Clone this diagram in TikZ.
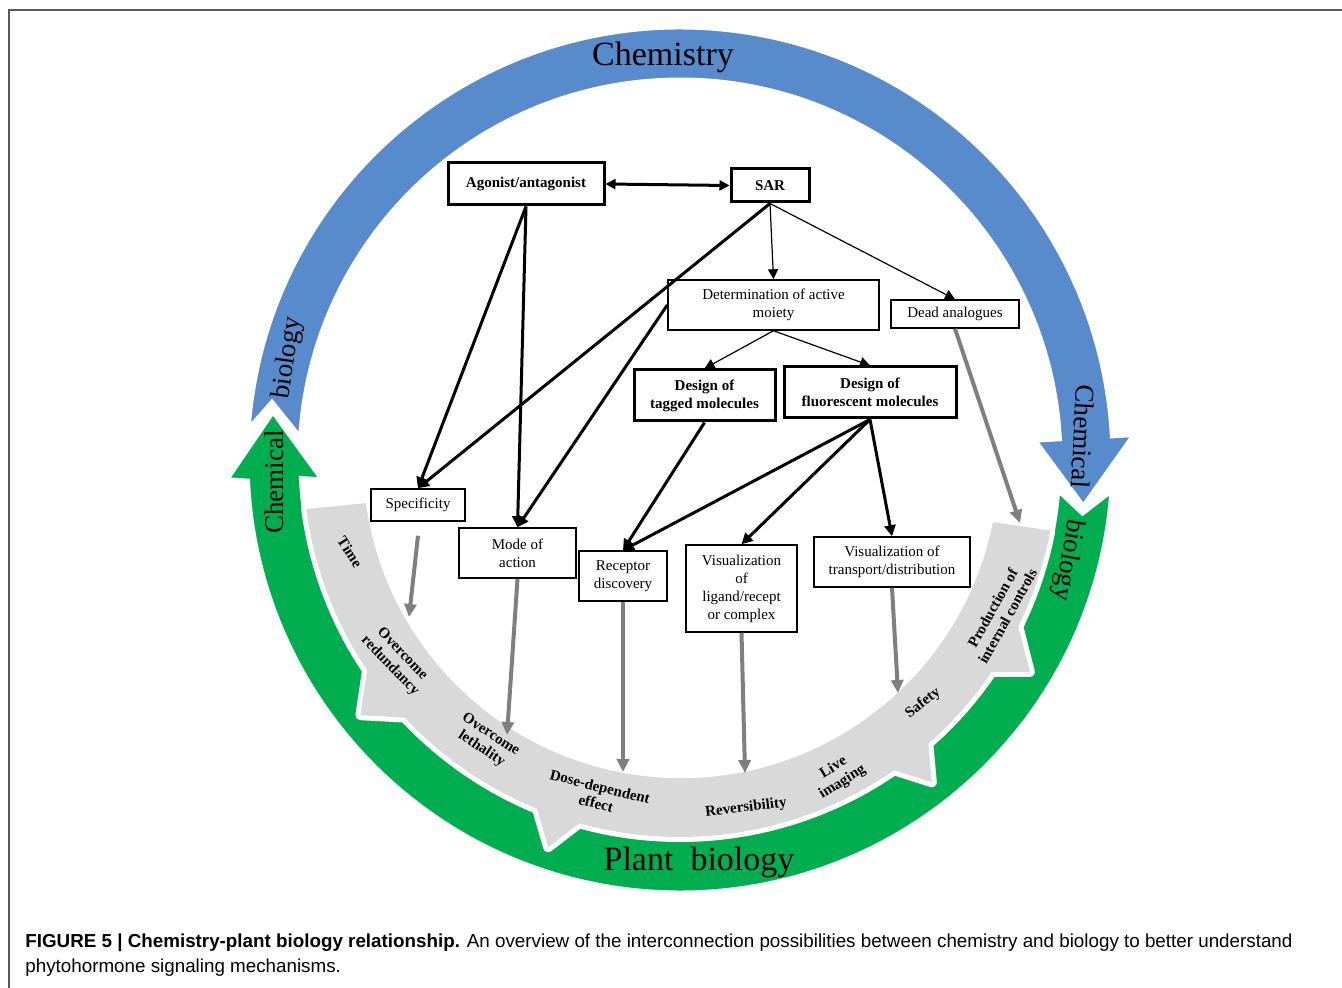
\documentclass[tikz,border=0pt]{standalone}
\usepackage{fontspec}
\setmainfont{Liberation Serif}
\newfontfamily\capfont{Liberation Sans}
\usetikzlibrary{arrows.meta}

\definecolor{chemblue}{RGB}{88,139,204}
\definecolor{plantgreen}{RGB}{0,174,80}
\definecolor{bandgray}{RGB}{217,217,217}
\definecolor{arrowgray}{RGB}{127,127,127}

\tikzset{
  box/.style={draw, line width=0.75pt, align=center, inner sep=1pt, font=\fontsize{7.5}{9}\selectfont},
  boldbox/.style={box, line width=1.5pt, font=\fontsize{7.5}{9}\selectfont\bfseries},
  link/.style={line width=1.5pt, -{Triangle[length=5.5pt,width=5.5pt]}},
  dlink/.style={line width=1.5pt, {Triangle[length=5pt,width=5pt]}-{Triangle[length=5pt,width=5pt]}},
  thinlink/.style={line width=0.6pt, -{Triangle[length=5pt,width=5pt]}},
  graylink/.style={arrowgray, line width=2pt, -{Triangle[length=6.5pt,width=6pt]}},
  bandtext/.style={font=\fontsize{7.5}{8.5}\selectfont\bfseries, align=center},
  ringtext/.style={font=\fontsize{13.5}{14}\selectfont},
  titletext/.style={font=\fontsize{17}{17}\selectfont}
}

\begin{document}
\begin{tikzpicture}[x=0.5pt,y=-0.5pt]
\useasboundingbox (0,0) rectangle (1342,988);
\draw [gray!70!black, line width=1pt] (9,988)--(9,10)--(1342,10);

\begin{scope}[shift={(680,460)}]
\fill [chemblue, draw=white, line width=2.5pt] (184:433) arc[start angle=184, end angle=356.8, radius=433]
  --(356.8:455)--(366.6:406)--(356.8:355)--(356.8:380)
  arc[start angle=356.8, end angle=183.3, radius=380]--(188:412)--cycle;
\fill [plantgreen, draw=white, line width=2.5pt] (4:433) arc[start angle=4, end angle=177.2, radius=433]
  --(177.5:454)--(186.8:410)--(176.8:358)--(177.2:379)
  arc[start angle=177.2, end angle=4.5, radius=379]--(7.5:406)--cycle;
\fill [bandgray, preaction={draw=white, line width=5pt, line join=round}]
  (172.2:318)--(172.5:377) arc[start angle=172.5, end angle=146.1, radius=377]
  --(141.4:409)--(136.9:377) arc[start angle=136.9, end angle=112.3, radius=377]
  --(108.8:409)--(105.5:377) arc[start angle=105.5, end angle=55.4, radius=377]
  --(52:409)--(48.8:377) arc[start angle=48.8, end angle=34.2, radius=377]
  --(31.2:409)--(26.2:377) arc[start angle=26.2, end angle=10.8, radius=377]
  --(11.2:319) arc[start angle=11.2, end angle=172.2, radius=318]--cycle;
\end{scope}

\node [titletext] (chem) at (663,57) {Chemistry};
\node [titletext] (plant) at (699,862) {Plant\ \ biology};
\node [ringtext, rotate=82] (lbio) at (288,358) {biology};
\node [ringtext, rotate=90] (lchem) at (274,482) {Chemical};
\node [ringtext, rotate=-93] (rchem) at (1083,437) {Chemical};
\node [ringtext, rotate=-100] (rbio) at (1068,560) {biology};

\node [bandtext, rotate=-57] (time) at (350,552) {Time};
\node [bandtext, rotate=-46] (redun) at (396,660) {Overcome\\redundancy};
\node [bandtext, rotate=-33] (leth) at (486,742) {Overcome\\lethality};
\node [bandtext, rotate=-14] (dose) at (598,795) {Dose-dependent\\effect};
\node [bandtext, rotate=7] (rev) at (746,808) {Reversibility};
\node [bandtext, rotate=32] (live) at (838,775) {Live\\imaging};
\node [bandtext, rotate=38] (safe) at (923,703) {Safety};
\node [bandtext, rotate=61] (prod) at (1000,612) {Production of\\internal controls};

\node [boldbox, minimum width=78pt, minimum height=21pt] (agon) at (526,184) {Agonist/antagonist};
\node [boldbox, minimum width=39pt, minimum height=16.5pt] (sar) at (770,185.5) {SAR};
\node [box, minimum width=105.5pt, minimum height=25pt] (detm) at (773.5,305) {Determination of active\\moiety};
\node [box, minimum width=64pt, minimum height=14pt] (dead) at (955,314) {Dead analogues};
\node [boldbox, minimum width=70.5pt, minimum height=25.5pt] (tagd) at (704.5,395.5) {Design of\\tagged molecules};
\node [boldbox, minimum width=86pt, minimum height=25.5pt] (fluo) at (870,392.5) {Design of\\fluorescent molecules};
\node [box, minimum width=47pt, minimum height=16pt] (spec) at (418,505) {Specificity};
\node [box, minimum width=58.5pt, minimum height=25pt] (mode) at (517.5,553) {Mode of\\action};
\node [box, minimum width=44pt, minimum height=25pt] (recp) at (623,576) {Receptor\\discovery};
\node [box, minimum width=55.5pt, minimum height=43.5pt] (vlig) at (741.5,588.5) {Visualization\\of\\ligand/recept\\or complex};
\node [box, minimum width=78pt, minimum height=25pt] (vtra) at (892,562) {Visualization of\\transport/distribution};

\coordinate (spec-e) at (409,617);
\coordinate (mode-e) at (507,735);
\coordinate (recp-e) at (623,772);
\coordinate (vlig-e) at (745,773);
\coordinate (vtra-e) at (898,693);
\coordinate (dead-e) at (1020,523);

\draw [dlink] (agon.east)--(sar.west);
\draw [thinlink] (sar.south)--(detm.north);
\draw [thinlink] (sar.south)--(dead.north);
\draw [link] (sar.south)--(spec.north);
\draw [link] (agon.south)--(spec.north);
\draw [link] (agon.south)--(mode.north);
\draw [link] (detm.west)--(mode.north);
\draw [thinlink] (detm.south)--(tagd.north);
\draw [thinlink] (detm.south)--(fluo.north);
\draw [link] (tagd.south)--(recp.north);
\draw [link] (fluo.south)--(recp.north);
\draw [link] (fluo.south)--(vlig.north);
\draw [link] (fluo.south)--(vtra.north);

\draw [graylink] ([yshift=-7]spec.south)--(spec-e);
\draw [graylink] (mode.south)--(mode-e);
\draw [graylink] (recp.south)--(recp-e);
\draw [graylink] (vlig.south)--(vlig-e);
\draw [graylink] (vtra.south)--(vtra-e);
\draw [graylink] (dead.south)--(dead-e);

\node [anchor=north west, align=left, inner sep=0, font=\capfont\fontsize{9.4}{12.5}\selectfont] (cap) at (25,933)
  {\textbf{FIGURE 5 | Chemistry-plant biology relationship.} An overview of the interconnection possibilities between chemistry and biology to better understand\\phytohormone signaling mechanisms.};
\end{tikzpicture}
\end{document}
